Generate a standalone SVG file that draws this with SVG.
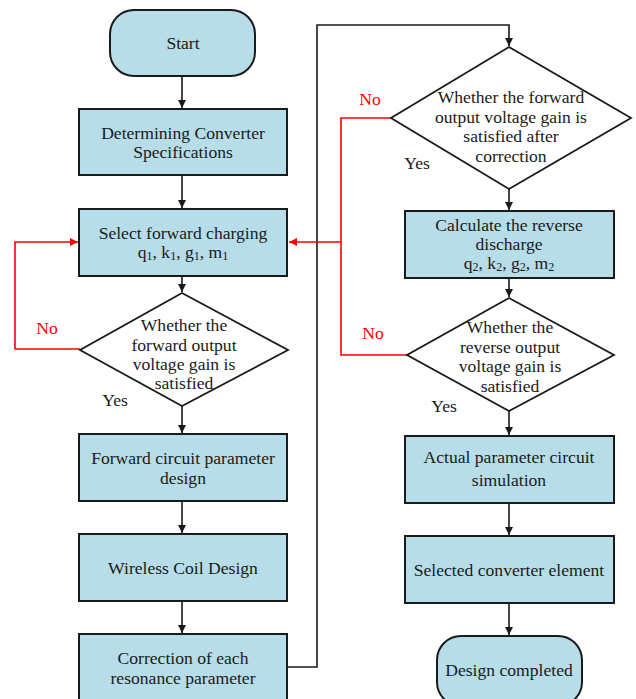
<svg xmlns="http://www.w3.org/2000/svg" width="636" height="699" viewBox="0 0 636 699">
<defs>
<style>
.box{fill:#b7dde8;stroke:#1a1a1a;stroke-width:2}
.dia{fill:#ffffff;stroke:#1a1a1a;stroke-width:1.8}
.t{font-family:"Liberation Serif","Times New Roman",serif;font-size:17.6px;fill:#1a1a1a;text-anchor:middle}
.r{fill:#ff0000}
.ln{fill:none;stroke:#1a1a1a;stroke-width:1.6}
.rl{fill:none;stroke:#ff0000;stroke-width:1.6}
</style>
<marker id="ab" markerWidth="9" markerHeight="8" refX="8" refY="4" orient="auto" markerUnits="userSpaceOnUse"><path d="M0,0 L8,4 L0,8 z" fill="#1a1a1a"/></marker>
<marker id="ar" markerWidth="9" markerHeight="8" refX="8" refY="4" orient="auto" markerUnits="userSpaceOnUse"><path d="M0,0 L8,4 L0,8 z" fill="#ff0000"/></marker>
</defs>
<rect width="636" height="699" fill="#ffffff"/>
<g id="connectors">
<line class="ln" x1="182" y1="76" x2="182" y2="108" marker-end="url(#ab)"/>
<line class="ln" x1="182" y1="175" x2="182" y2="208" marker-end="url(#ab)"/>
<line class="ln" x1="182" y1="276" x2="182" y2="292" marker-end="url(#ab)"/>
<line class="ln" x1="182" y1="406" x2="182" y2="433" marker-end="url(#ab)"/>
<line class="ln" x1="182" y1="501" x2="182" y2="533" marker-end="url(#ab)"/>
<line class="ln" x1="182" y1="601" x2="182" y2="633" marker-end="url(#ab)"/>
<polyline class="ln" points="287,667 317,667 317,25 509,25 509,46" marker-end="url(#ab)"/>
<line class="ln" x1="509" y1="189" x2="509" y2="210" marker-end="url(#ab)"/>
<line class="ln" x1="509" y1="278" x2="509" y2="297" marker-end="url(#ab)"/>
<line class="ln" x1="509" y1="411" x2="509" y2="435" marker-end="url(#ab)"/>
<line class="ln" x1="509" y1="503" x2="509" y2="535" marker-end="url(#ab)"/>
<line class="ln" x1="509" y1="603" x2="509" y2="635" marker-end="url(#ab)"/>
<polyline class="rl" points="80,349 15,349 15,242 78,242" marker-end="url(#ar)"/>
<polyline class="rl" points="391,118 341,118 341,355 407,355"/>
<line class="rl" x1="341" y1="242" x2="289" y2="242" marker-end="url(#ar)"/>
<text class="t r" x="47" y="334">No</text>
<text class="t" x="115" y="406">Yes</text>
<text class="t r" x="370" y="105">No</text>
<text class="t" x="417" y="169">Yes</text>
<text class="t r" x="373" y="339">No</text>
<text class="t" x="444" y="412">Yes</text>
</g>
<g id="start"><rect class="box" x="110" y="10" width="145" height="66" rx="24"/><text class="t" x="183" y="49">Start</text></g>
<g id="spec"><rect class="box" x="79" y="109" width="208" height="66"/><text class="t" x="183" y="139">Determining Converter</text><text class="t" x="183" y="158">Specifications</text></g>
<g id="select"><rect class="box" x="79" y="209" width="208" height="67"/><text class="t" x="183" y="239">Select forward charging</text><text class="t" x="183" y="258">q<tspan font-size="12" dy="2">1</tspan><tspan dy="-2">, k</tspan><tspan font-size="12" dy="2">1</tspan><tspan dy="-2">, g</tspan><tspan font-size="12" dy="2">1</tspan><tspan dy="-2">, m</tspan><tspan font-size="12" dy="2">1</tspan></text></g>
<g id="check1"><polygon class="dia" points="182,293 288,350 182,406 80,350"/><text class="t" x="184" y="331">Whether the</text><text class="t" x="184" y="351">forward output</text><text class="t" x="184" y="370">voltage gain is</text><text class="t" x="184" y="389">satisfied</text></g>
<g id="fwd"><rect class="box" x="79" y="434" width="208" height="67"/><text class="t" x="183" y="464">Forward circuit parameter</text><text class="t" x="183" y="484">design</text></g>
<g id="coil"><rect class="box" x="79" y="534" width="208" height="67"/><text class="t" x="183" y="574">Wireless Coil Design</text></g>
<g id="corr"><rect class="box" x="79" y="634" width="208" height="70"/><text class="t" x="183" y="664">Correction of each</text><text class="t" x="183" y="684">resonance parameter</text></g>
<g id="check2"><polygon class="dia" points="509,47 631,118 509,189 391,118"/><text class="t" x="511" y="103">Whether the forward</text><text class="t" x="511" y="123">output voltage gain is</text><text class="t" x="511" y="142">satisfied after</text><text class="t" x="511" y="162">correction</text></g>
<g id="reverse"><rect class="box" x="405" y="211" width="209" height="67"/><text class="t" x="509" y="231">Calculate the reverse</text><text class="t" x="509" y="250">discharge</text><text class="t" x="509" y="269">q<tspan font-size="12" dy="2">2</tspan><tspan dy="-2">, k</tspan><tspan font-size="12" dy="2">2</tspan><tspan dy="-2">, g</tspan><tspan font-size="12" dy="2">2</tspan><tspan dy="-2">, m</tspan><tspan font-size="12" dy="2">2</tspan></text></g>
<g id="check3"><polygon class="dia" points="509,298 614,355 509,411 407,355"/><text class="t" x="510" y="333">Whether the</text><text class="t" x="510" y="353">reverse output</text><text class="t" x="510" y="372">voltage gain is</text><text class="t" x="510" y="392">satisfied</text></g>
<g id="sim"><rect class="box" x="405" y="436" width="209" height="67"/><text class="t" x="509" y="463">Actual parameter circuit</text><text class="t" x="509" y="486">simulation</text></g>
<g id="element"><rect class="box" x="405" y="536" width="209" height="67"/><text class="t" x="509" y="576">Selected converter element</text></g>
<g id="done"><rect class="box" x="437" y="636" width="145" height="70" rx="24"/><text class="t" x="509" y="676">Design completed</text></g>
</svg>
